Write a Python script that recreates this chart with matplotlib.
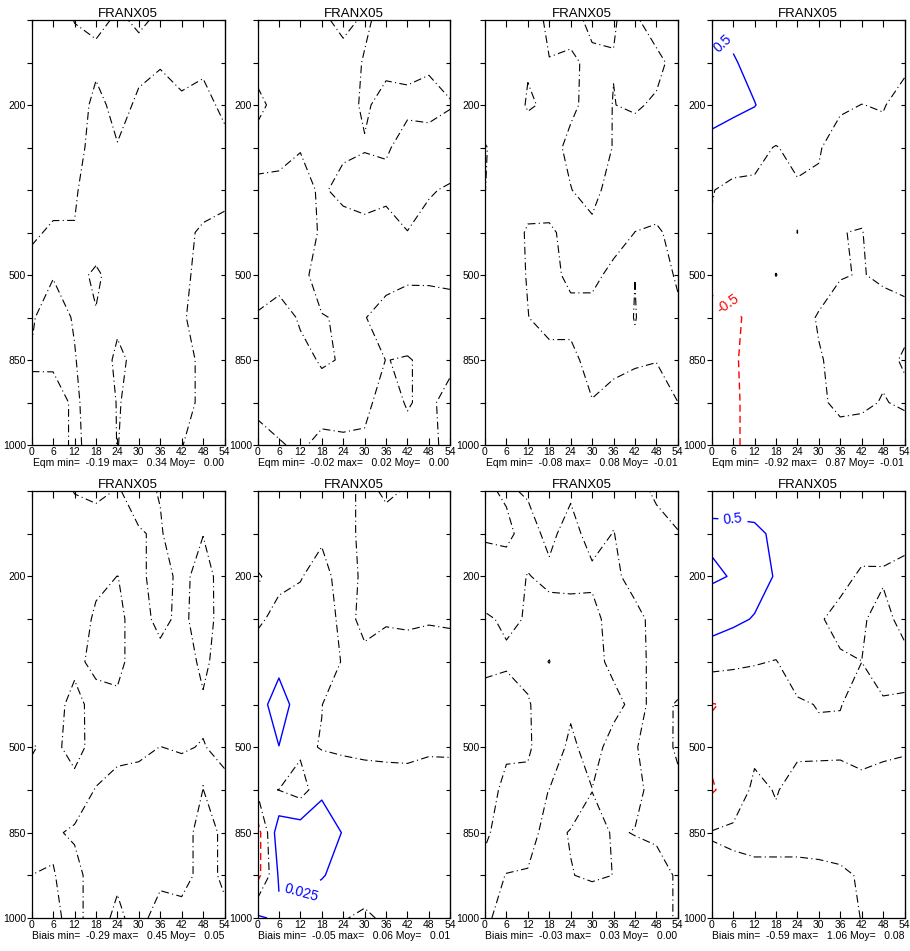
import numpy as np
import matplotlib
matplotlib.use("Agg")
import matplotlib.pyplot as plt

plt.rcParams['font.family'] = ['Liberation Sans', 'DejaVu Sans']

# forecast steps (h) and pressure levels (hPa), top of the panel first
steps = [0, 6, 12, 18, 24, 30, 36, 42, 48, 54]
plevs = [100, 150, 200, 250, 300, 400, 500, 700, 850, 925, 1000]
plabels = [200, 500, 850, 1000]
station = 'FRANX05'

# Eqm fields (rows = plevs, columns = steps)
eqm_1 = [
    [-0.15, -0.19, 0.01, 0.09, -0.045, 0.045, -0.045, -0.15, -0.15, -0.15],
    [-0.15, -0.15, -0.12, -0.11, -0.10, -0.105, -0.032, -0.134, -0.076, -0.15],
    [-0.15, -0.15, -0.30, 0.146, -0.155, 0.073, 0.168, 0.066, 0.124, -0.088],
    [-0.15, -0.15, -0.15, 0.16, 0.023, 0.2, 0.25, 0.25, 0.2, 0.112],
    [-0.15, -0.072, -0.03, 0.15, 0.2, 0.25, 0.25, 0.2, 0.077, 0.05],
    [-0.03, 0.028, 0.012, 0.1, 0.2, 0.25, 0.2, 0.039, -0.023, -0.05],
    [0.07, 0.01, 0.052, -0.028, 0.076, 0.2, 0.2, 0.03, -0.04, -0.1],
    [0.018, -0.09, 0.018, 0.0098, 0.05, 0.2, 0.2, 0.022, -0.078, -0.1],
    [-0.012, -0.05, -0.013, 0.15, -0.05, 0.069, 0.2, 0.063, -0.037, -0.1],
    [0.032, 0.129, -0.05, 0.15, -0.01, 0.05, 0.2, 0.063, -0.037, -0.1],
    [0.05, 0.1, -0.039, 0.079, -0.003, 0.05, 0.2, 0.005, -0.066, -0.1],
]
eqm_2 = [
    [0.012, 0.015, 0.012, 0.0039, -0.006, 0.003, -0.0061, -0.015, -0.015, -0.012],
    [0.006, 0.012, 0.015, 0.012, 0.008, -0.0013, -0.0043, -0.0053, -0.003, -0.0086],
    [-0.0045, 0.0062, 0.015, 0.015, 0.0063, -0.00244, 0.0057, 0.0047, 0.007, 0.0014],
    [0.00675, 0.0055, 0.0012, 0.015, 0.005, 0.0012, 0.0028, -0.0087, -0.0097, -0.0126],
    [-0.004, -0.0045, -0.0088, 0.0038, -0.0085, -0.0088, -0.0072, -0.012, -0.00174, 0.0024],
    [-0.015, -0.015, -0.012, 0.003, 0.0139, 0.0066, 0.0117, 0.0005, 0.0062, 0.012],
    [-0.0085, -0.0048, -0.004, 0.006, 0.015, 0.012, 0.0048, 0.0024, 0.0025, 0.0034],
    [0.0015, 0.0052, -0.0013, -0.00067, 0.0014, 0.0005, -0.0052, -0.0076, -0.0075, -0.0066],
    [0.012, 0.01, 0.003, -0.001, 0.00059, 0.006, -0.0002, 0.00084, -0.0028, -0.004],
    [0.004, 0.0037, 0.008, 0.004, 0.0049, 0.003, -0.0051, 0.001, -0.0033, 0.006],
    [-0.006, -0.00065, 0.00132, -0.00245, -0.0021, -0.002, -0.008, -0.004, -0.004, 0.0047],
]
eqm_3 = [
    [0.05, 0.05, 0.0514, -0.02, -0.034, 0.0246, 0.004, -0.02, 0.071, 0.06],
    [0.05, 0.05, 0.0053, 0.003, 0.016, -0.0218, -0.002, -0.04, -0.038, 0.052],
    [0.05, 0.04, -0.006, 0.009, 0.0177, -0.03, 0.002, -0.015, 0.0183, 0.05],
    [-0.005, 0.04, 0.034, 0.034, -0.0225, -0.04, 0.003, 0.06, 0.05, 0.05],
    [-0.001, 0.04, 0.04, 0.04, 0.003, -0.04, 0.053, 0.05, 0.04, 0.05],
    [0.01, 0.05, -0.01, -0.012, 0.024, 0.03, 0.05, -0.001, -0.01, 0.0233],
    [0.05, 0.045, -0.005, -0.03, 0.0226, 0.03, -0.0306, -0.0006, -0.03, 0.008],
    [0.05, 0.05, 0.002, -0.04, -0.031, -0.0414, -0.04, 0.003, -0.04, -0.012],
    [0.05, 0.05, 0.04, 0.037, 0.0286, -0.04, -0.02, -0.015, -0.003, -0.03],
    [-0.001, 0.05, 0.05, 0.05, 0.05, 0.0044, 0.0244, 0.06, 0.047, 0.0005],
    [0.03, 0.05, 0.05, 0.05, 0.05, 0.05, 0.05, 0.05, 0.05, 0.05],
]
eqm_4 = [
    [0.4, 0.3, 0.2, 0.2, 0.2, 0.2, 0.2, 0.2, 0.2, 0.2],
    [0.72, 0.556, 0.3, 0.2, 0.25, 0.25, 0.2, 0.2, 0.2, 0.07],
    [0.7, 0.6, 0.52, 0.234, 0.2, 0.2, 0.05, -0.004, 0.02, -0.124],
    [0.35, 0.267, 0.064, -0.012, 0.07, 0.026, -0.15, -0.2, -0.1, -0.2],
    [0.018, -0.104, -0.036, -0.1, -0.03, -0.044, -0.15, -0.1, -0.15, -0.15],
    [-0.029, -0.15, -0.15, -0.1, 0.002, -0.15, -0.0052, 0.011, -0.15, -0.15],
    [-0.4, -0.2, -0.15, 0.005, -0.1, -0.23, -0.0244, 0.02, -0.071, -0.1],
    [-0.613, -0.6, -0.35, -0.15, -0.2, 0.041, 0.179, 0.2, 0.183, 0.096],
    [-0.8, -0.55, -0.35, -0.2, -0.2, -0.0335, 0.119, 0.2, 0.1, -0.04],
    [-0.9, -0.6, -0.29, -0.2, -0.2, -0.075, 0.1, 0.1, -0.0316, 0.085],
    [-0.92, -0.6, -0.29, -0.2, -0.2, -0.2, -0.194, -0.285, -0.2, -0.36],
]

# Biais fields
biais_1 = [
    [0.15, 0.1, -0.0075, -0.03, 0.0075, -0.034, 0.0075, 0.15, 0.15, 0.15],
    [0.15, 0.15, 0.1, 0.073, 0.15, 0.007, -0.013, 0.087, 0.006, 0.15],
    [0.15, 0.15, 0.15, 0.058, -0.002, 0.05, -0.093, 0.062, -0.094, 0.1],
    [0.15, 0.15, 0.15, -0.042, -0.06, 0.111, -0.08, 0.074, -0.15, 0.15],
    [0.15, 0.15, 0.04, -0.043, -0.057, 0.106, 0.098, 0.15, -0.065, 0.15],
    [0.15, 0.065, -0.053, 0.062, 0.043, 0.15, 0.1, 0.15, 0.035, 0.15],
    [-0.0167, 0.056, -0.084, 0.091, 0.045, 0.034, -0.002, 0.015, -0.009, 0.05],
    [0.067, 0.15, 0.084, -0.008, -0.055, -0.066, -0.1, -0.085, 0.001, -0.05],
    [0.1, 0.018, -0.02, -0.1, -0.1, -0.1, -0.1, -0.05, 0.044, -0.021],
    [-0.001, -0.0063, 0.05, -0.075, -0.03, -0.08, -0.05, -0.05, 0.044, -0.021],
    [-0.05, -0.03, 0.045, -0.0675, 0.036, -0.067, 0.089, 0.05, 0.05, 0.0247],
]
biais_2 = [
    [-0.015, -0.015, -0.015, -0.015, -0.01, 0.0072, -0.004, 0.002, 0.015, 0.015],
    [-0.015, -0.015, -0.015, -0.006, -0.01, 0.0072, 0.0103, 0.015, 0.015, 0.015],
    [0.002, -0.008, -0.002, 0.0134, -0.0164, 0.0072, 0.015, 0.015, 0.015, 0.015],
    [-0.006, 0.01, 0.0134, 0.01, -0.005, 0.0036, 0.003, 0.004, 0.002, 0.003],
    [0.018, 0.0158, 0.015, 0.022, -0.003, -0.0032, -0.0137, -0.0114, -0.0123, -0.0106],
    [0.0117, 0.04, 0.01, 0.0005, -0.015, -0.015, -0.015, -0.015, -0.015, -0.015],
    [0.015, 0.0245, 0.0043, -0.0011, -0.002, -0.003, -0.0035, -0.0038, -0.0022, -0.0024],
    [0.0041, -0.0003, -0.01, 0.015, 0.008, 0.007, 0.0065, 0.0062, 0.0078, 0.0076],
    [-0.0367, 0.0414, 0.04, 0.057, 0.022, 0.015, 0.012, 0.012, 0.012, 0.012],
    [-0.034, 0.028, 0.04, 0.026, 0.02, 0.01, 0.012, 0.012, 0.012, 0.012],
    [0.029, 0.02, 0.005, 0.015, 0.001, -0.003, 0.003, 0.012, 0.012, 0.012],
]
biais_3 = [
    [-0.0037, 0.003, -0.00245, -0.015, -0.004, -0.015, -0.0091, -0.015, 0.007, 0.0136],
    [-0.003, -0.005, 0.0087, -0.0058, 0.0098, -0.0106, 0.0009, -0.017, -0.015, -0.0014],
    [0.012, 0.011, -0.00096, 0.005, 0.006, 0.006, 0.009, -0.0153, -0.015, -0.015],
    [-0.0023, 0.0026, -0.001, -0.0085, -0.0086, -0.01, 0.0133, 0.0125, -0.0135, -0.015],
    [-0.0038, -0.0027, -0.0076, 0.0005, -0.015, -0.01, 0.0072, 0.01, -0.0089, -0.015],
    [0.0062, 0.0096, 0.0024, -0.015, -0.0045, -0.015, -0.0087, 0.008, -0.0071, 0.002],
    [0.01, 0.004, 0.0034, -0.015, 0.0055, -0.011, 0.011, 0.002, -0.0134, 0.004],
    [0.0102, -0.006, -0.0066, 0.0003, 0.01, 0.0005, 0.01, 0.006, -0.0083, -0.006],
    [0.0034, -0.01, -0.005, 0.005, -0.001, -0.01, 0.0022, -0.0008, -0.003, -0.015],
    [-0.0066, 0.0005, 0.001, 0.01, 0.0007, -0.003, 0.0002, 0.01, 0.007, -0.0021],
    [-0.005, 0.0106, 0.015, 0.015, 0.015, 0.017, 0.015, 0.015, 0.01, -0.003],
]
biais_4 = [
    [0.4, 0.4, 0.35, 0.3, 0.3, 0.3, 0.3, 0.3, 0.3, 0.3],
    [0.556, 0.55, 0.553, 0.453, 0.3, 0.3, 0.25, 0.16, 0.167, 0.1],
    [0.45, 0.52, 0.7, 0.465, 0.3, 0.2, 0.1, -0.05, -0.05, -0.096],
    [0.73, 0.6, 0.47, 0.3, 0.3, 0.035, -0.104, -0.047, 0.142, -0.15],
    [0.164, 0.1, 0.03, -0.016, 0.2, 0.2, 0.045, 0.001, 0.2, 0.14],
    [-0.52, -0.45, -0.3, -0.3, -0.044, 0.015, 0.01, -0.1, -0.05, -0.055],
    [-0.4, -0.3, -0.1, -0.3, -0.066, -0.064, -0.06, -0.106, -0.068, -0.042],
    [-0.55, -0.3, 0.1, -0.023, 0.128, 0.136, 0.14, 0.094, 0.132, 0.158],
    [0.023, 0.0896, 0.15, 0.077, 0.15, 0.15, 0.15, 0.2, 0.2, 0.2],
    [-0.098, -0.124, -0.113, -0.058, -0.113, -0.088, -0.05, 0.029, 0.2, 0.2],
    [-0.15, -0.15, -0.15, -0.15, -0.15, -0.15, -0.1, 0.0075, 0.2, 0.2],
]

# min / max / mean printed under each panel
eqm_stats = [(-0.19, 0.34, 0.00), (-0.02, 0.02, 0.00), (-0.08, 0.08, -0.01), (-0.92, 0.87, -0.01)]
biais_stats = [(-0.29, 0.45, 0.05), (-0.05, 0.06, 0.01), (-0.03, 0.03, 0.00), (-0.59, 1.06, 0.08)]

# contour interval of each panel
eqm_cint = [0.5, 0.025, 0.1, 0.5]
biais_cint = [0.5, 0.025, 0.025, 0.5]

fig = plt.figure(figsize=(9.10, 9.51), dpi=100)
W, H = 910.0, 951.0
lefts = [31.7, 257.5, 485.0, 711.7]
pw = 192.8
rows = [(20.0, 445.0), (491.0, 918.0)]

# where the labelled contours get their label: (row, col) -> {sign: spot}
label_spots = {
    (0, 3): {1: (3.1, 0.55), -1: (4.5, 6.7)},
    (1, 1): {1: (12.6, 9.45)},
    (1, 3): {1: (6.0, 0.62)},
}

panels = [
    ('Eqm', [eqm_1, eqm_2, eqm_3, eqm_4], eqm_stats, eqm_cint),
    ('Biais', [biais_1, biais_2, biais_3, biais_4], biais_stats, biais_cint),
]

yy = np.arange(len(plevs))
ylabels = [str(p) if p in plabels else '' for p in plevs]

for r, (name, fields, stats, cints) in enumerate(panels):
    top, bot = rows[r]
    for c in range(4):
        ax = fig.add_axes([lefts[c] / W, 1 - bot / H, pw / W, (bot - top) / H])
        z = np.array(fields[c])
        ci = cints[c]
        spots = label_spots.get((r, c), {})

        # zero line: black dash-dot
        ax.contour(steps, yy, z, levels=[0.0], colors='black',
                   linestyles=[(0, (7, 3, 1, 3))], linewidths=0.8)
        # negative: red dashed, positive: blue solid
        for sign, col, ls in [(-1, '#ff0000', (0, (5, 3))), (1, '#0000ff', '-')]:
            lev = sign * ci
            if z.min() < lev < z.max():
                cs = ax.contour(steps, yy, z, levels=[lev], colors=col,
                                linestyles=[ls], linewidths=1.0)
                if sign in spots:
                    ax.clabel(cs, manual=[spots[sign]], inline=True, fmt='%g', fontsize=10)

        ax.set_xlim(0, 54)
        ax.set_ylim(10, 0)
        ax.set_xticks(steps)
        ax.set_xticklabels([str(s) for s in steps])
        ax.set_yticks(yy)
        ax.set_yticklabels(ylabels)
        ax.tick_params(axis='x', direction='in', top=True, bottom=True, length=5,
                       width=0.8, labelsize=7.5, pad=1.5)
        ax.tick_params(axis='y', direction='out', left=True, right=False, length=3.5,
                       width=0.8, labelsize=7.5, pad=0.5)
        rax = ax.secondary_yaxis('right')
        rax.set_yticks(yy)
        rax.set_yticklabels([])
        rax.tick_params(direction='in', length=3, width=0.8)
        for sp in ax.spines.values():
            sp.set_linewidth(0.9)

        ax.set_title(station, fontsize=9.5, pad=2)
        mn, mx, my = stats[c]
        ax.text(0.5, -0.043, '%s min=%7.2f max=%7.2f Moy=%7.2f' % (name, mn, mx, my),
                transform=ax.transAxes, ha='center', va='center', fontsize=7.5)

fig.savefig('out.png', dpi=100)
